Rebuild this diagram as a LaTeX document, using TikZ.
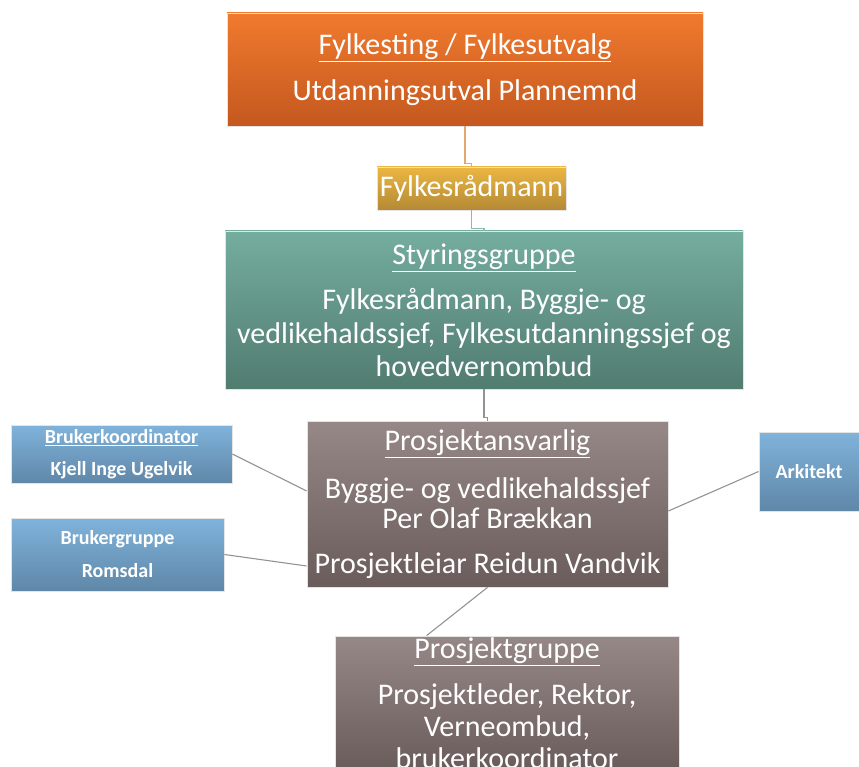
\documentclass[tikz,border=0pt]{standalone}
\usepackage{fontspec}
\setmainfont{Carlito}
\usetikzlibrary{calc}
\definecolor{orT}{HTML}{F07A2E}
\definecolor{orB}{HTML}{C4581F}
\definecolor{goT}{HTML}{EBB642}
\definecolor{goB}{HTML}{B48A35}
\definecolor{teT}{HTML}{74AD9E}
\definecolor{teB}{HTML}{517C70}
\definecolor{brT}{HTML}{958886}
\definecolor{brB}{HTML}{6A5C5A}
\definecolor{blT}{HTML}{80B3DB}
\definecolor{blB}{HTML}{5F87A8}
\definecolor{rim}{HTML}{E4E4E4}
\definecolor{connc}{HTML}{939393}
\definecolor{connor}{HTML}{E2A870}
\definecolor{connte}{HTML}{8FB8AE}
\newcommand{\bigfnt}{\fontsize{30}{33}\selectfont}
\newcommand{\smallfnt}{\fontsize{20}{22}\selectfont\bfseries}
\begin{document}
\begin{tikzpicture}[x=1pt,y=-1pt,
  box/.style={draw=rim, line width=0.8pt, align=center, text=white, inner sep=0pt, font=\bigfnt},
  sbox/.style={box, font=\smallfnt},
  conn/.style={draw=connc, line width=1.1pt}]
\useasboundingbox (0,0) rectangle (859,767);
\clip (0,0) rectangle (859,767);

\node[box, top color=orT, bottom color=orB, minimum width=476pt, minimum height=113pt] (fk) at (465,69.5)
  {\underline{Fylkesting / Fylkesutvalg}\\[13pt]Utdanningsutval Plannemnd};
\node[box, top color=goT, bottom color=goB, minimum width=189pt, minimum height=43pt] (fr) at (471.5,188.5)
  {Fylkesrådmann};
\node[box, top color=teT, bottom color=teB, minimum width=518pt, minimum height=158pt] (sg) at (484,310)
  {\underline{Styringsgruppe}\\[12pt]Fylkesrådmann, Byggje- og\\[1pt]vedlikehaldssjef, Fylkesutdanningssjef og\\hovedvernombud};
\node[box, top color=brT, bottom color=brB, minimum width=361pt, minimum height=166pt] (pa) at (487.5,504)
  {\underline{Prosjektansvarlig}\\[15pt]Byggje- og vedlikehaldssjef\\[-3pt]Per Olaf Brækkan\\[12pt]Prosjektleiar Reidun Vandvik};
\node[box, top color=brT, bottom color=brB, minimum width=344pt, minimum height=134pt] (pg) at (507,703)
  {\underline{Prosjektgruppe}\\[13pt]Prosjektleder, Rektor,\\[-1pt]Verneombud,\\[-1pt]brukerkoordinator};
\node[sbox, top color=blT, bottom color=blB, minimum width=221pt, minimum height=58pt] (bk) at (121.5,454)
  {\underline{Brukerkoordinator}\\[10pt]Kjell Inge Ugelvik};
\node[sbox, top color=blT, bottom color=blB, minimum width=213pt, minimum height=73pt] (bg) at (117.5,554.5)
  {Brukergruppe\\[11pt]Romsdal};
\node[sbox, top color=blT, bottom color=blB, minimum width=100pt, minimum height=79pt] (ar) at (809,471.5)
  {Arkitekt};

\draw[conn, draw=connor] (fk.south) -- ++(0,37) -| (fr.north);
\draw[conn, draw=connte] (fr.south) -- ++(0,18) -| (sg.north);
\draw[conn] (sg.south) -- ++(0,28) -| (pa.north);
\draw[conn] (pa.south) -- ($(pg.north west)+(92,0)$);
\draw[conn] (bk.east) -- (pa.west |- 0,491);
\draw[conn] (bg.east) -- (pa.west |- 0,566);
\draw[conn] (ar.west) -- (pa.east |- 0,511);
\end{tikzpicture}
\end{document}
